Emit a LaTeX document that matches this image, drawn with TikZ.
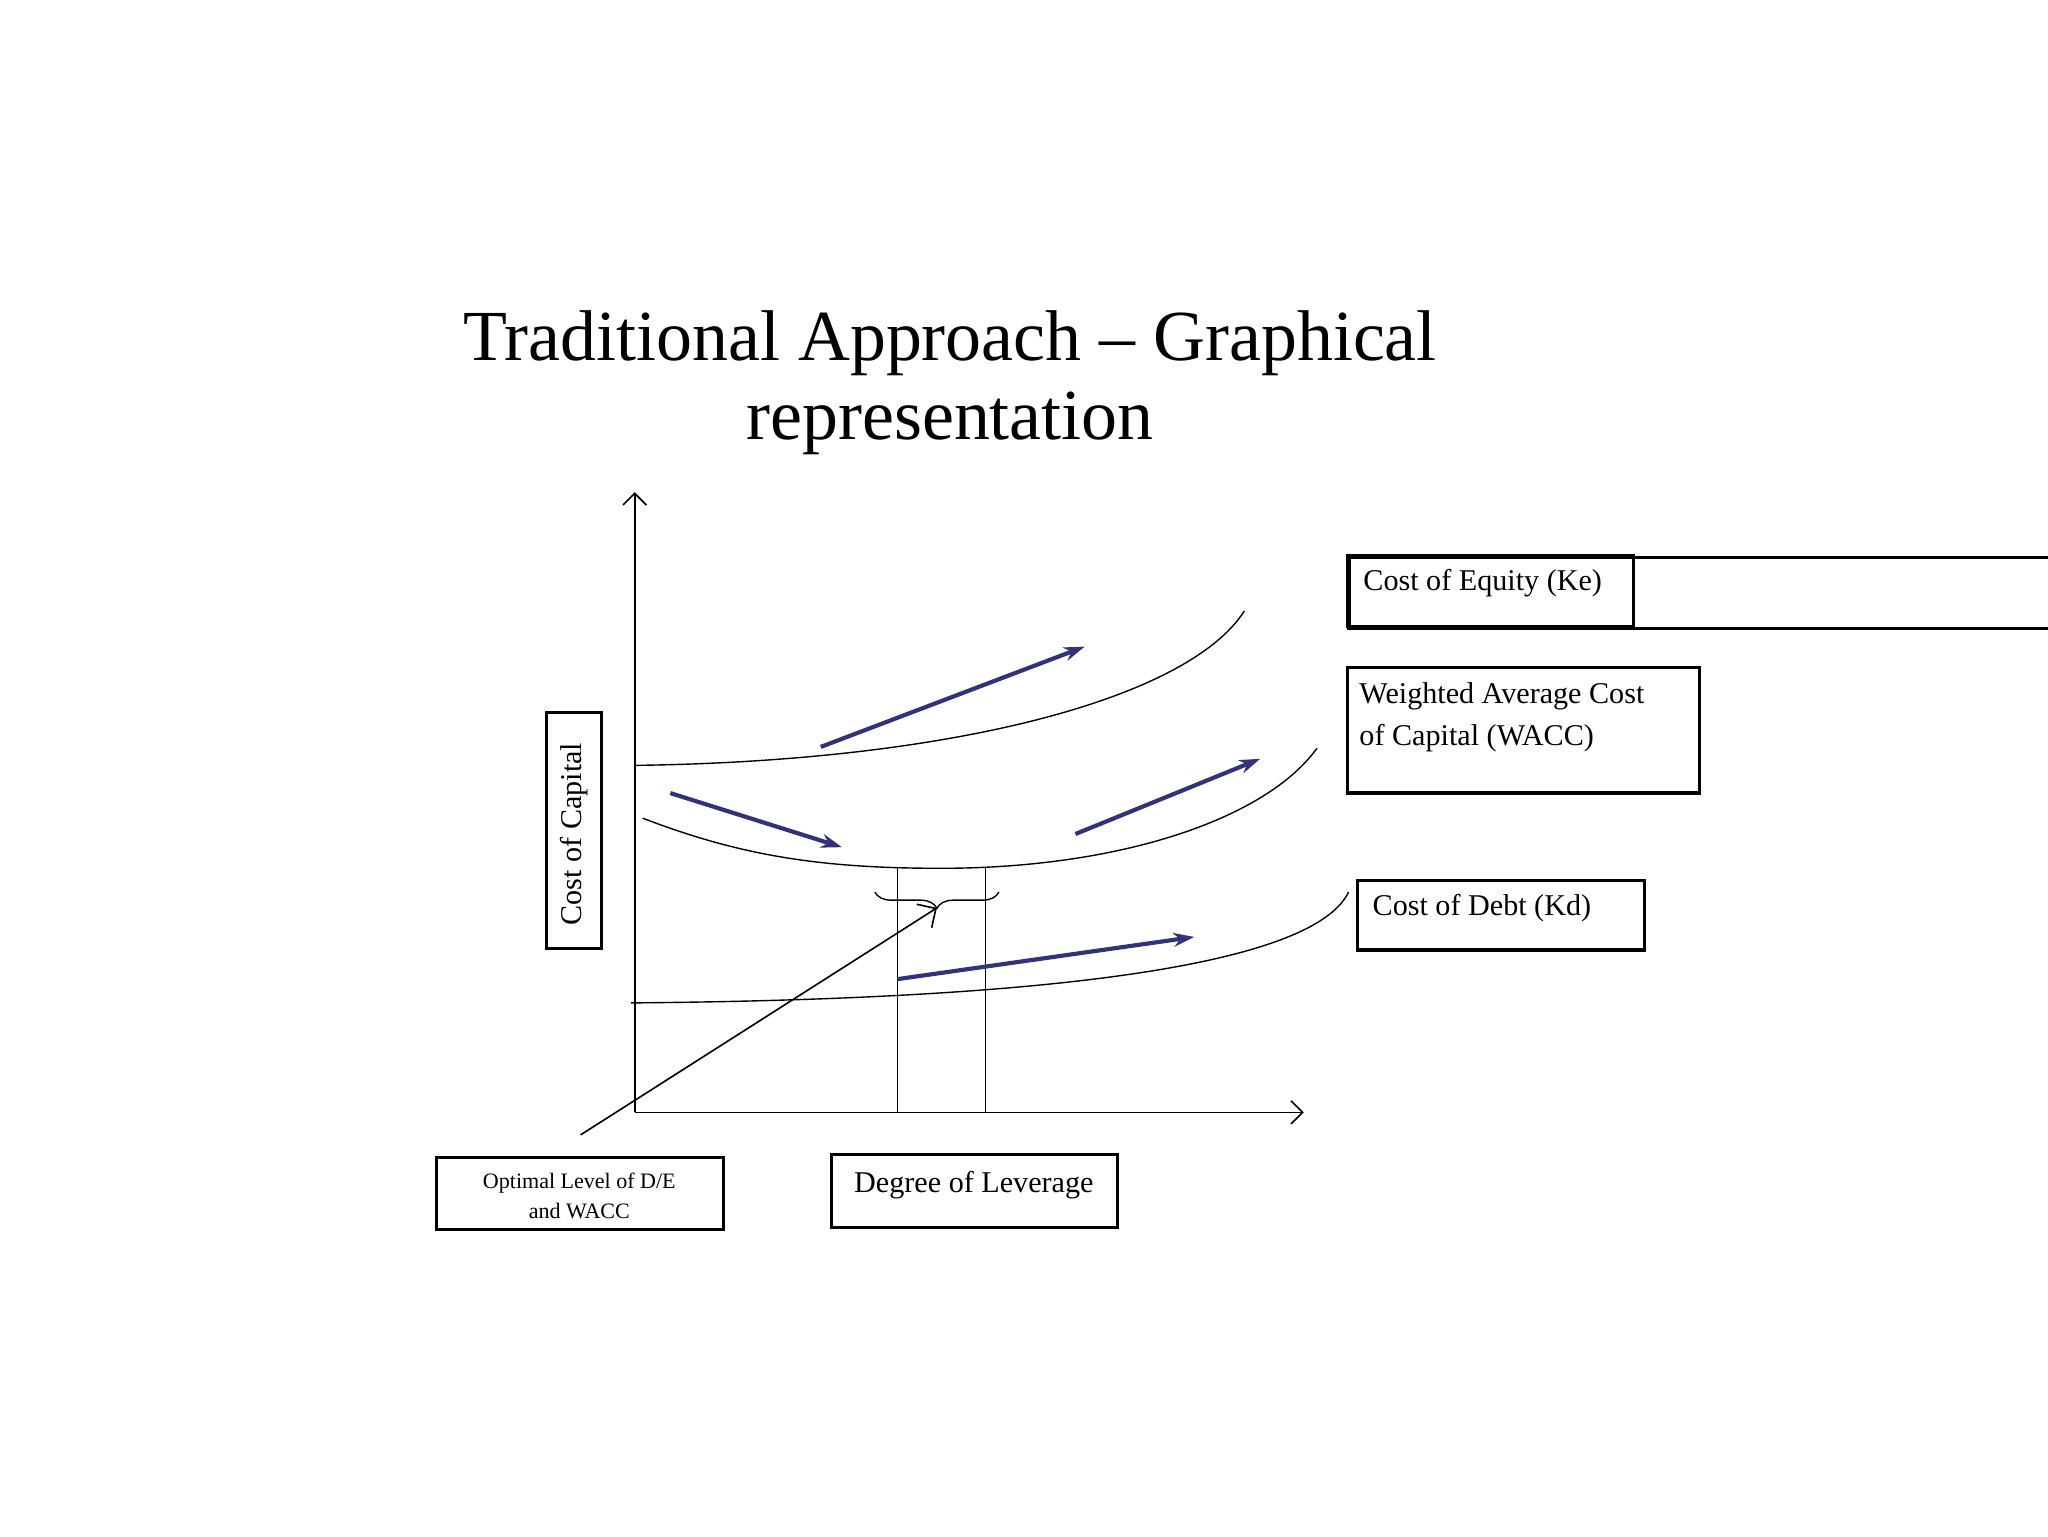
\documentclass[tikz,border=0pt]{standalone}
\usepackage{fontspec}
\setmainfont{Liberation Serif}
\usetikzlibrary{decorations.pathreplacing,arrows.meta}
\begin{document}
\begin{tikzpicture}[x=0.02cm,y=-0.02cm,
  lbl/.style={draw,line width=1.4pt,inner sep=0pt,font=\fontsize{13}{15}\selectfont},
  curve/.style={line width=0.6pt},
  bluearr/.style={draw={rgb,255:red,50;green,50;blue,120},line width=1.8pt,-{Stealth[length=9pt,width=6pt]}},
  axis/.style={line width=0.7pt,-{Straight Barb[length=5pt]}}]
\useasboundingbox (0,0) rectangle (1552,1164);
\node (t1) at (720,260) {\fontsize{31}{36}\selectfont Traditional Approach -- Graphical};
\node (t2) at (720,321) {\fontsize{31}{36}\selectfont representation};
\coordinate (o) at (481,843);
\coordinate (ytop) at (481,373);
\coordinate (xend) at (988,843);
\draw[axis] (o) -- (ytop);
\draw[axis] (o) -- (xend);
% curves
\draw[curve] (481,580) .. controls (720,577) and (900,530) .. (943,463);
\draw[curve] (487,620) .. controls (560,648) and (620,658) .. (713,658) .. controls (850,658) and (960,620) .. (998,567);
\draw[curve] (478,760) .. controls (720,758) and (990,742) .. (1022,676);
% verticals
\draw[curve] (680,658) -- (680,843);
\draw[curve] (747,658) -- (747,843);
\draw[curve,decorate,decoration={brace,amplitude=7pt,mirror}] (663,676) -- (757,676);
\coordinate (bt) at (710,688);
\coordinate (ls) at (440,860);
\draw[line width=0.7pt,-{Straight Barb[length=6pt]}] (ls) -- (bt);
% blue arrows
\draw[bluearr] (622,566) -- (822,490);
\draw[bluearr] (508,601) -- (638,642);
\draw[bluearr] (815,632) -- (955,575);
\draw[bluearr] (680,742) -- (905,710);
% boxes
\node[lbl,minimum width=217\pgflinewidth,anchor=north west,text width=205*0.02cm,align=left,minimum height=54*0.02cm,inner xsep=5pt] (ke) at (1021,421) {};
\node[anchor=west] at (1027,442) {\fontsize{13}{15}\selectfont Cost of  Equity (Ke)};
\draw[line width=1.4pt] (1021,421) rectangle (1238,475);
\draw[line width=1.4pt] (1021,506) rectangle (1288,601);
\node[anchor=north west,align=left,font=\fontsize{13}{18}\selectfont] (wacc) at (1024,511) {Weighted Average Cost\\of  Capital (WACC)};
\draw[line width=1.4pt] (1029,667) rectangle (1246,720);
\node[anchor=west,font=\fontsize{13}{15}\selectfont] (kd) at (1034,688) {Cost of  Debt (Kd)};
\draw[line width=1.4pt] (331,877) rectangle (548,932);
\node[align=center,font=\fontsize{9.5}{13}\selectfont] (opt) at (439,906) {Optimal Level of  D/E\\and WACC};
\draw[line width=1.4pt] (630,875) rectangle (847,930);
\node[font=\fontsize{13}{15}\selectfont] (dol) at (738,898) {Degree of  Leverage};
\draw[line width=1.4pt] (414,540) rectangle (456,719);
\node[rotate=90,font=\fontsize{13}{15}\selectfont] (coc) at (435,632) {Cost of  Capital};
\end{tikzpicture}
\end{document}
